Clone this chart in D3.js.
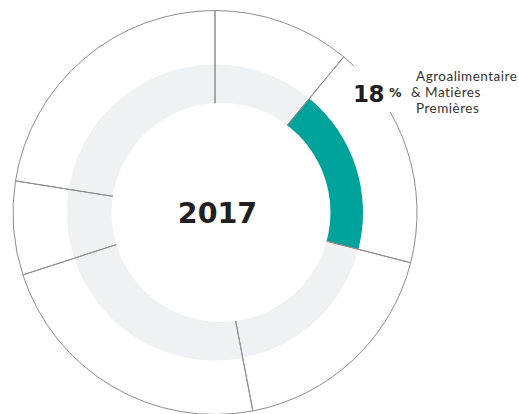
<!DOCTYPE html>
<html>
<head>
<meta charset="utf-8">
<script src="https://cdn.jsdelivr.net/npm/d3@7"></script>
<style>
  html, body { margin: 0; padding: 0; background: #fff; }
  svg { display: block; }
</style>
</head>
<body>
<svg id="chart" width="519" height="414"></svg>
<script>
// Shares (%) of each sector, clockwise from the top
const shares = [11, 18, 18, 23, 7.5, 22.5];
const highlightIndex = 1;
const highlightValue = 18;
const highlightLabel = ["Agroalimentaire", "& Matières", "Premières"];
const yearLabel = "2017";

const svg = d3.select("#chart");
const cx = 215, cy = 212.5;
const outerR = 202, ringR = 148, holeR = 109.5;

const pie = d3.pie().sort(null).value(d => d);
const slices = pie(shares);

const g = svg.append("g").attr("transform", `translate(${cx},${cy})`);

// white sectors
const sector = d3.arc().innerRadius(0).outerRadius(outerR);
g.selectAll("path.bg").data(slices).join("path")
  .attr("class", "bg").attr("d", sector).attr("fill", "#fff");

// light grey ring
g.append("circle").attr("r", ringR).attr("fill", "#f0f1f3");

// highlighted sector of the ring
const ringArc = d3.arc().innerRadius(0).outerRadius(ringR);
g.append("path").attr("d", ringArc(slices[highlightIndex])).attr("fill", "#00a39b");

// sector outlines
g.selectAll("path.outline").data(slices).join("path")
  .attr("class", "outline").attr("d", sector)
  .attr("fill", "none").attr("stroke", "#8d8d8d").attr("stroke-width", 1);

// central hole
svg.append("circle").attr("cx", 221).attr("cy", cy).attr("r", holeR).attr("fill", "#fff");

// year in the centre
svg.append("text").attr("x", 217.5).attr("y", 222.5)
  .attr("text-anchor", "middle")
  .attr("font-family", "DejaVu Sans").attr("font-weight", "bold")
  .attr("font-size", 28.5).attr("fill", "#231f20")
  .text(yearLabel);

// label block for the highlighted sector
svg.append("rect").attr("x", 354).attr("y", 66).attr("width", 165).attr("height", 46).attr("fill", "#fff");

svg.append("text").attr("x", 353).attr("y", 102)
  .attr("font-family", "DejaVu Sans").attr("font-weight", "bold")
  .attr("font-size", 23).attr("fill", "#231f20")
  .attr("letter-spacing", -0.5)
  .text(highlightValue);
svg.append("text").attr("x", 389).attr("y", 97)
  .attr("font-family", "DejaVu Sans").attr("font-weight", "bold")
  .attr("font-size", 12.5).attr("fill", "#231f20")
  .text("%");

const labelX = [416, 411, 416];
highlightLabel.forEach((line, i) => {
  svg.append("text").attr("x", labelX[i]).attr("y", 81 + i * 16.2)
    .attr("font-family", "Lato").attr("font-weight", 400)
    .attr("font-size", 13.5).attr("letter-spacing", 0.5).attr("fill", "#333")
    .text(line);
});
</script>
</body>
</html>
